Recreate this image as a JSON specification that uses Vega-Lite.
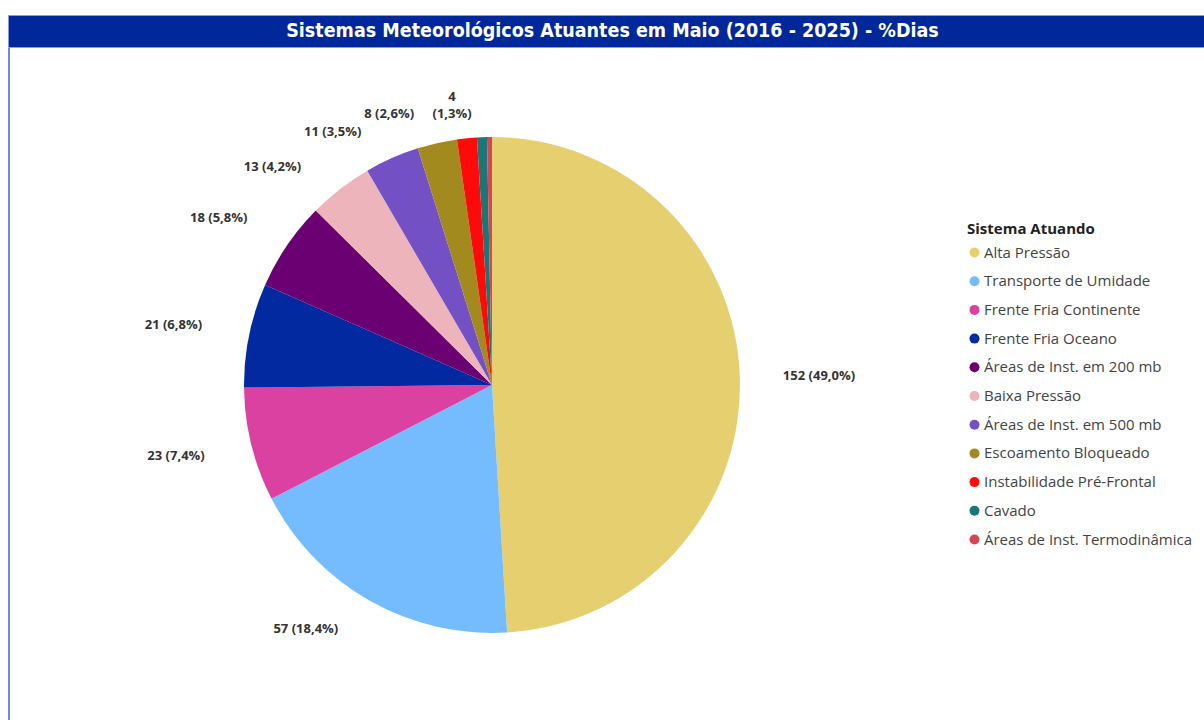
{
  "$schema": "https://vega.github.io/schema/vega-lite/v6.json",
  "padding": {"left": 7, "top": 14, "right": 0, "bottom": 0},
  "background": "white",
  "spacing": 0,
  "config": {"view": {"stroke": null}, "concat": {"spacing": 0}},
  "vconcat": [
    {
      "width": 1197,
      "height": 32,
      "view": {"fill": "#00289A", "stroke": "#8E9AE0", "strokeWidth": 1},
      "data": {"values": [{"titulo": "Sistemas Meteorológicos Atuantes em Maio (2016 - 2025) - %Dias"}]},
      "mark": {"type": "text", "color": "white", "font": "DejaVu Sans Condensed", "fontWeight": "bold", "fontSize": 19.5, "dx": 6, "baseline": "middle"},
      "encoding": {"text": {"field": "titulo"}}
    },
    {
      "spacing": 0,
      "hconcat": [
        {
          "width": 2,
          "height": 674,
          "view": {"fill": "#7485DC", "stroke": null},
          "data": {"values": [{"t": ""}]},
          "mark": {"type": "text"},
          "encoding": {"text": {"field": "t"}}
        },
        {
          "width": 964,
          "height": 674,
          "data": {
            "values": [
              {"sistema": "Alta Pressão", "dias": 152, "rotulo": "152 (49,0%)"},
              {"sistema": "Transporte de Umidade", "dias": 57, "rotulo": "57 (18,4%)"},
              {"sistema": "Frente Fria Continente", "dias": 23, "rotulo": "23 (7,4%)"},
              {"sistema": "Frente Fria Oceano", "dias": 21, "rotulo": "21 (6,8%)"},
              {"sistema": "Áreas de Inst. em 200 mb", "dias": 18, "rotulo": "18 (5,8%)"},
              {"sistema": "Baixa Pressão", "dias": 13, "rotulo": "13 (4,2%)"},
              {"sistema": "Áreas de Inst. em 500 mb", "dias": 11, "rotulo": "11 (3,5%)"},
              {"sistema": "Escoamento Bloqueado", "dias": 8, "rotulo": "8 (2,6%)"},
              {"sistema": "Instabilidade Pré-Frontal", "dias": 4, "rotulo": "4\n(1,3%)"},
              {"sistema": "Cavado", "dias": 2, "rotulo": ""},
              {"sistema": "Áreas de Inst. Termodinâmica", "dias": 1, "rotulo": ""}
            ]
          },
          "layer": [
            {
              "mark": {"type": "arc", "outerRadius": 248},
              "encoding": {
                "theta": {"field": "dias", "type": "quantitative", "stack": true},
                "order": {"field": "dias", "type": "quantitative", "sort": "descending"},
                "color": {
                  "field": "sistema",
                  "type": "nominal",
                  "scale": {
                    "domain": ["Alta Pressão", "Transporte de Umidade", "Frente Fria Continente", "Frente Fria Oceano", "Áreas de Inst. em 200 mb", "Baixa Pressão", "Áreas de Inst. em 500 mb", "Escoamento Bloqueado", "Instabilidade Pré-Frontal", "Cavado", "Áreas de Inst. Termodinâmica"],
                    "range": ["#E6CF6E", "#74BCFD", "#DB41A0", "#0229A0", "#6A0072", "#EDB5BB", "#7350C4", "#A38A1E", "#FF0A0A", "#1C7576", "#D64550"]
                  },
                  "legend": {
                    "title": "Sistema Atuando",
                    "orient": "none",
                    "legendX": 959,
                    "legendY": 207,
                    "padding": 0,
                    "titleFont": "Open Sans",
                    "titleFontSize": 15,
                    "titleFontWeight": "bold",
                    "titleColor": "#222222",
                    "titlePadding": 8,
                    "labelFont": "Open Sans",
                    "labelFontSize": 15,
                    "labelColor": "#444444",
                    "labelOffset": 2,
                    "symbolType": "circle",
                    "symbolSize": 100,
                    "symbolStrokeWidth": 0,
                    "rowPadding": 12.7,
                    "labelLimit": 300
                  }
                }
              }
            },
            {
              "mark": {"type": "text", "radius": 291, "align": "left", "baseline": "middle", "font": "Open Sans", "fontWeight": "bold", "fontSize": 13, "color": "#333333"},
              "encoding": {
                "theta": {"field": "dias", "type": "quantitative", "stack": true},
                "order": {"field": "dias", "type": "quantitative", "sort": "descending"},
                "text": {"condition": {"test": "datum.sistema == 'Alta Pressão'", "field": "rotulo"}, "value": ""}
              }
            },
            {
              "mark": {"type": "text", "radius": 289, "dx": -11, "dy": -7, "align": "right", "baseline": "middle", "font": "Open Sans", "fontWeight": "bold", "fontSize": 13, "color": "#333333"},
              "encoding": {
                "theta": {"field": "dias", "type": "quantitative", "stack": true},
                "order": {"field": "dias", "type": "quantitative", "sort": "descending"},
                "text": {"condition": {"test": "datum.sistema == 'Transporte de Umidade'", "field": "rotulo"}, "value": ""}
              }
            },
            {
              "mark": {"type": "text", "radius": 296, "align": "right", "baseline": "middle", "font": "Open Sans", "fontWeight": "bold", "fontSize": 13, "color": "#333333"},
              "encoding": {
                "theta": {"field": "dias", "type": "quantitative", "stack": true},
                "order": {"field": "dias", "type": "quantitative", "sort": "descending"},
                "text": {"condition": {"test": "indexof(['Frente Fria Continente', 'Frente Fria Oceano', 'Áreas de Inst. em 200 mb'], datum.sistema) >= 0", "field": "rotulo"}, "value": ""}
              }
            },
            {
              "mark": {"type": "text", "radius": 289, "dx": -14, "dy": 11, "align": "right", "baseline": "middle", "font": "Open Sans", "fontWeight": "bold", "fontSize": 13, "color": "#333333"},
              "encoding": {
                "theta": {"field": "dias", "type": "quantitative", "stack": true},
                "order": {"field": "dias", "type": "quantitative", "sort": "descending"},
                "text": {"condition": {"test": "indexof(['Baixa Pressão', 'Áreas de Inst. em 500 mb', 'Escoamento Bloqueado'], datum.sistema) >= 0", "field": "rotulo"}, "value": ""}
              }
            },
            {
              "mark": {"type": "text", "radius": 286, "dx": -11, "dy": -3, "align": "center", "baseline": "middle", "lineBreak": "\n", "lineHeight": 17, "font": "Open Sans", "fontWeight": "bold", "fontSize": 13, "color": "#333333"},
              "encoding": {
                "theta": {"field": "dias", "type": "quantitative", "stack": true},
                "order": {"field": "dias", "type": "quantitative", "sort": "descending"},
                "text": {"condition": {"test": "datum.sistema == 'Instabilidade Pré-Frontal'", "field": "rotulo"}, "value": ""}
              }
            }
          ]
        }
      ]
    }
  ]
}
